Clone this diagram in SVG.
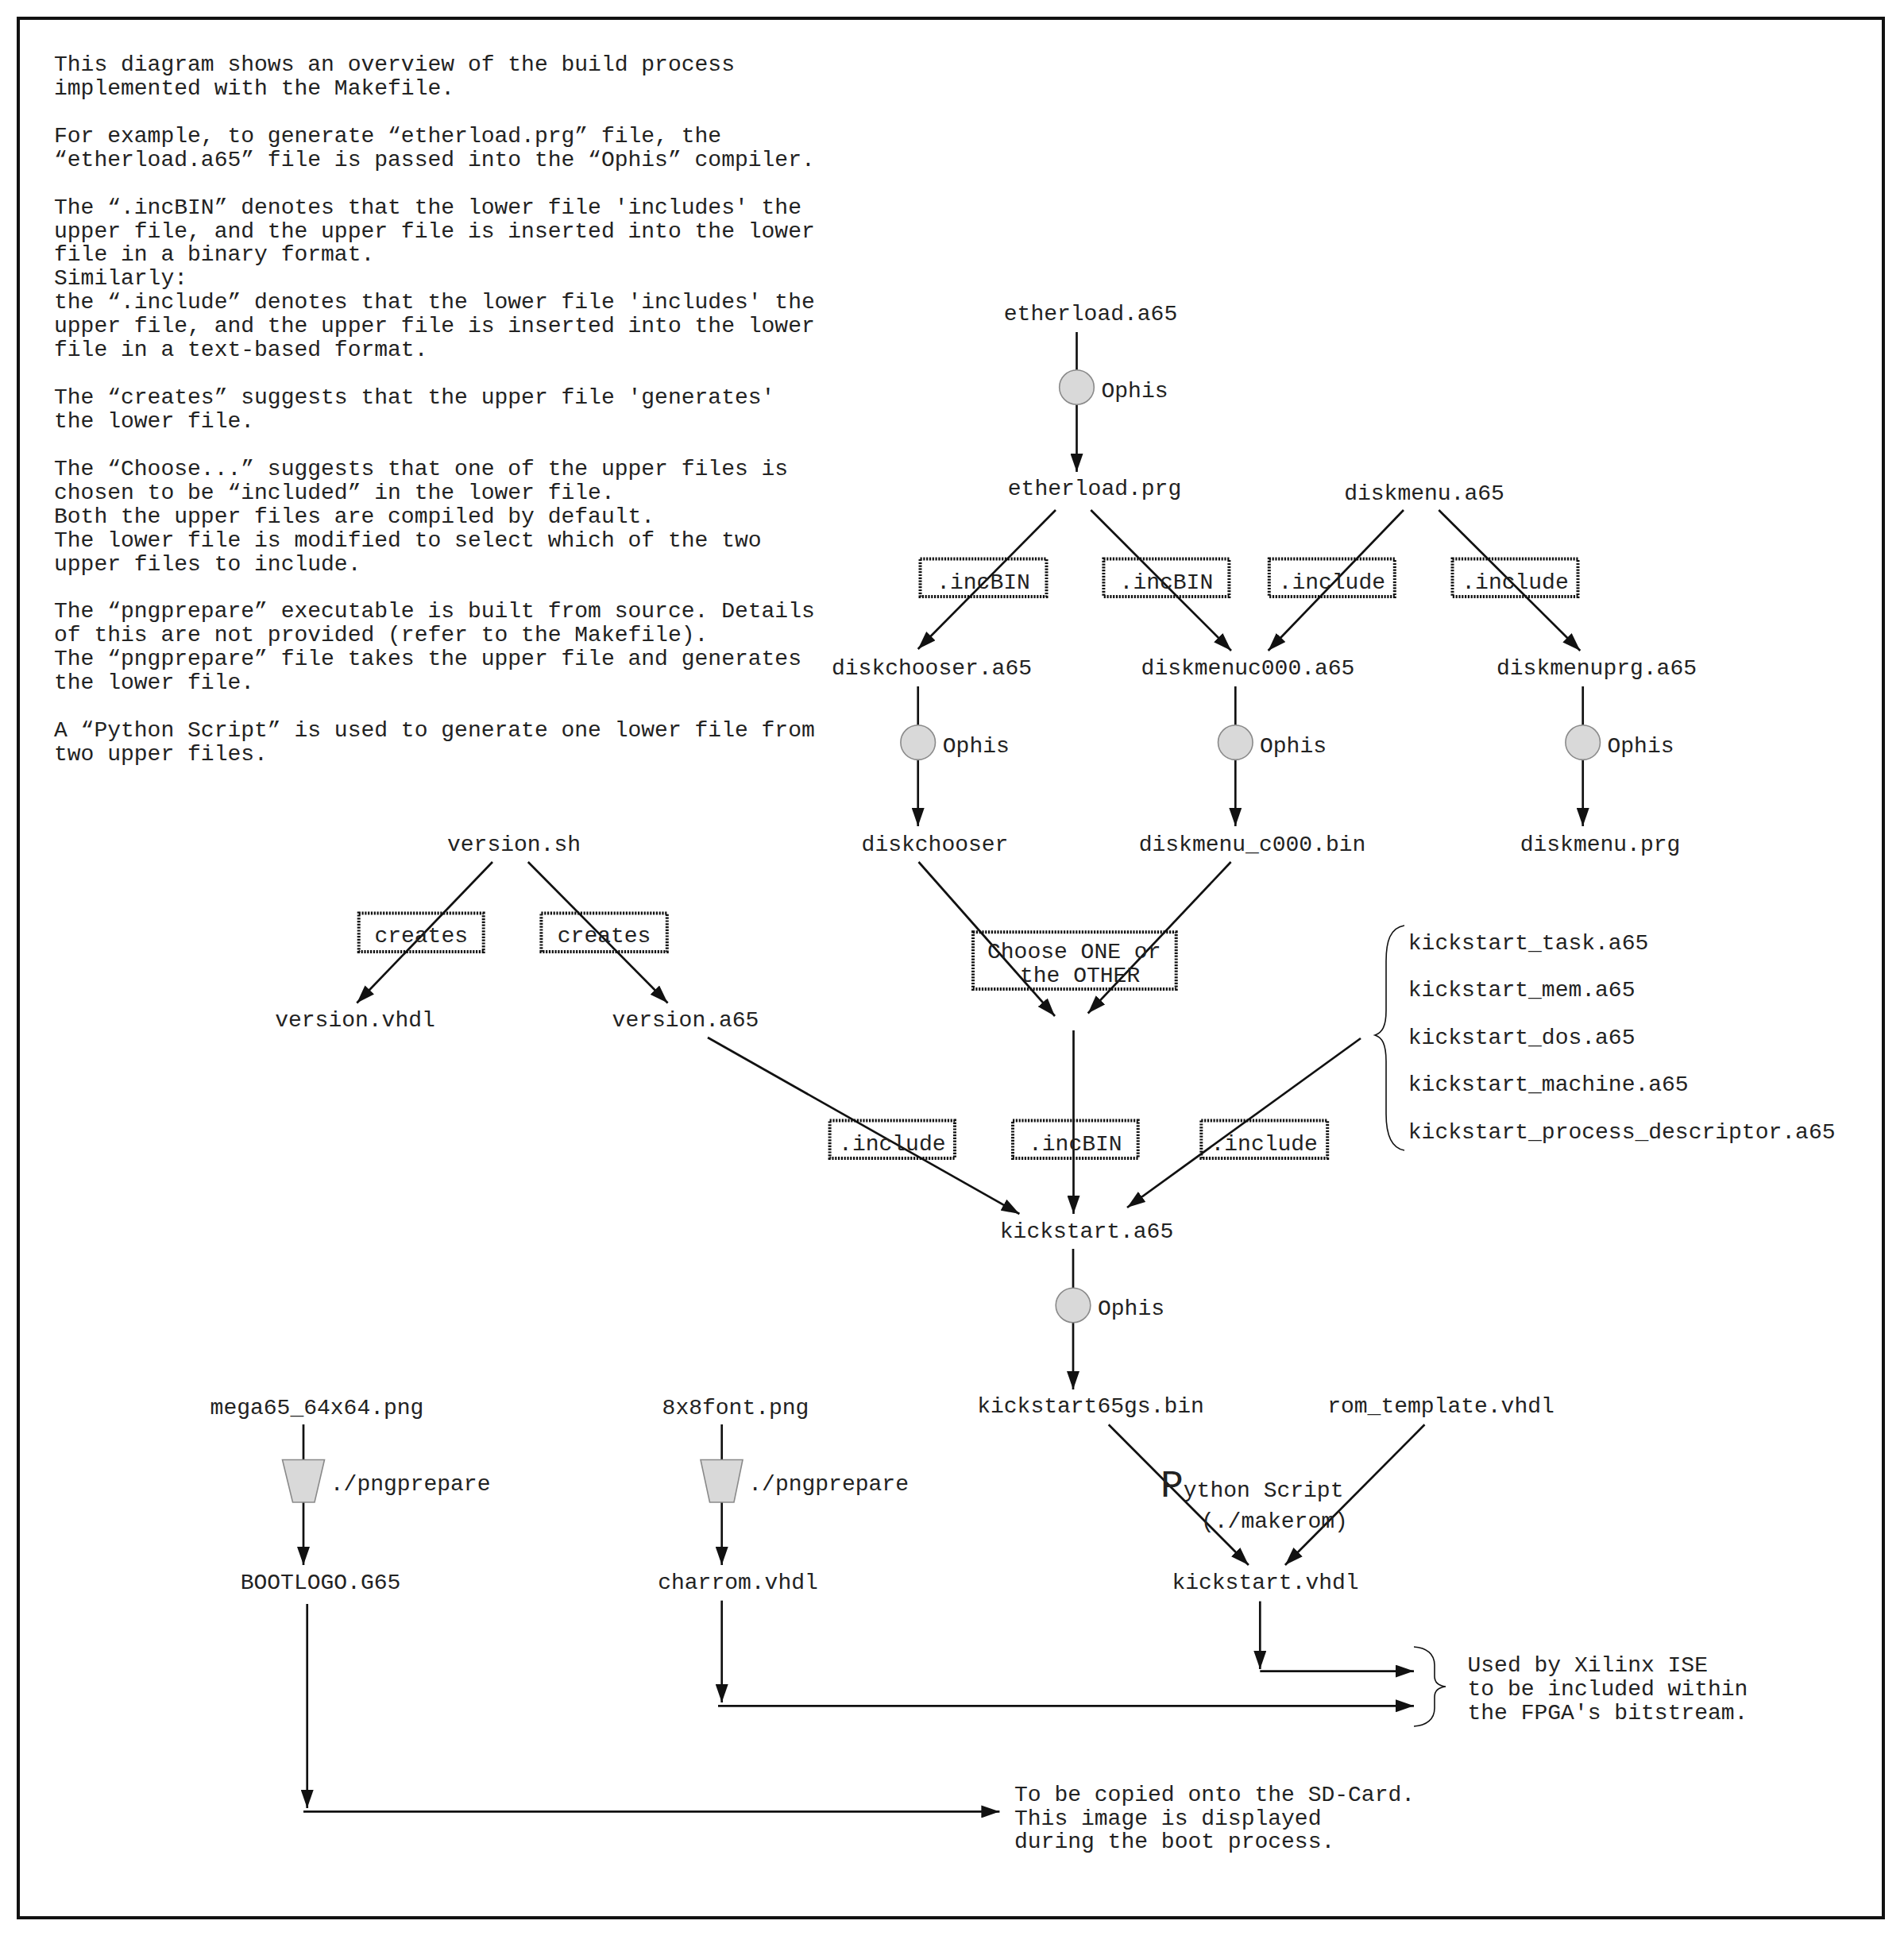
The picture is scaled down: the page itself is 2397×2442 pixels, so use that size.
<svg xmlns="http://www.w3.org/2000/svg" width="2397" height="2442" viewBox="0 0 2397 2442">
<style>
text{font-family:"Liberation Mono","DejaVu Sans Mono",monospace;font-size:28px;fill:#222}
.n{text-anchor:middle}
.c{stroke:#111;stroke-width:2.7;fill:none}
.a{marker-end:url(#ah)}
.lbl{fill:none;stroke:#111;stroke-width:4;stroke-dasharray:2.2 1.6}
.proc{fill:#d9d9d9;stroke:#8a8a8a;stroke-width:1.6}
.brace{fill:none;stroke:#111;stroke-width:1.6}
</style>
<defs>
<marker id="ah" viewBox="0 0 23 16" refX="23" refY="8" markerWidth="23" markerHeight="16" markerUnits="userSpaceOnUse" orient="auto">
<path d="M0,0 L23,8 L0,16 z" fill="#111"/>
</marker>
</defs>
<rect x="23" y="23" width="2348" height="2391" fill="#fff" stroke="#111" stroke-width="4"/>

<g id="notes">
<text x="68" y="89">
<tspan x="68">This diagram shows an overview of the build process</tspan>
<tspan x="68" dy="29.93">implemented with the Makefile.</tspan>
<tspan x="68" dy="59.86">For example, to generate “etherload.prg” file, the</tspan>
<tspan x="68" dy="29.93">“etherload.a65” file is passed into the “Ophis” compiler.</tspan>
<tspan x="68" dy="59.86">The “.incBIN” denotes that the lower file 'includes' the</tspan>
<tspan x="68" dy="29.93">upper file, and the upper file is inserted into the lower</tspan>
<tspan x="68" dy="29.93">file in a binary format.</tspan>
<tspan x="68" dy="29.93">Similarly:</tspan>
<tspan x="68" dy="29.93">the “.include” denotes that the lower file 'includes' the</tspan>
<tspan x="68" dy="29.93">upper file, and the upper file is inserted into the lower</tspan>
<tspan x="68" dy="29.93">file in a text-based format.</tspan>
<tspan x="68" dy="59.86">The “creates” suggests that the upper file 'generates'</tspan>
<tspan x="68" dy="29.93">the lower file.</tspan>
<tspan x="68" dy="59.86">The “Choose...” suggests that one of the upper files is</tspan>
<tspan x="68" dy="29.93">chosen to be “included” in the lower file.</tspan>
<tspan x="68" dy="29.93">Both the upper files are compiled by default.</tspan>
<tspan x="68" dy="29.93">The lower file is modified to select which of the two</tspan>
<tspan x="68" dy="29.93">upper files to include.</tspan>
<tspan x="68" dy="59.86">The “pngprepare” executable is built from source. Details</tspan>
<tspan x="68" dy="29.93">of this are not provided (refer to the Makefile).</tspan>
<tspan x="68" dy="29.93">The “pngprepare” file takes the upper file and generates</tspan>
<tspan x="68" dy="29.93">the lower file.</tspan>
<tspan x="68" dy="59.86">A “Python Script” is used to generate one lower file from</tspan>
<tspan x="68" dy="29.93">two upper files.</tspan>
</text>
</g>

<g id="connectors">
<line class="c a" x1="1355.5" y1="418" x2="1355.5" y2="594"/>
<line class="c a" x1="1329" y1="642" x2="1155.7" y2="817"/>
<line class="c a" x1="1373.3" y1="642" x2="1550" y2="819"/>
<line class="c a" x1="1767" y1="642" x2="1596.6" y2="819"/>
<line class="c a" x1="1811.3" y1="642" x2="1989.3" y2="819"/>
<line class="c a" x1="1155.7" y1="864" x2="1155.7" y2="1040"/>
<line class="c a" x1="1555.3" y1="864" x2="1555.3" y2="1040"/>
<line class="c a" x1="1992.7" y1="864" x2="1992.7" y2="1040"/>
<line class="c a" x1="620" y1="1085" x2="449.3" y2="1262.5"/>
<line class="c a" x1="664.8" y1="1085" x2="840.6" y2="1262.5"/>
<line class="c a" x1="1156.5" y1="1085" x2="1328" y2="1279"/>
<line class="c a" x1="1549.6" y1="1085" x2="1369.7" y2="1275.5"/>
<line class="c a" x1="1351.5" y1="1297" x2="1351.5" y2="1528"/>
<line class="c a" x1="891" y1="1306" x2="1283.4" y2="1528"/>
<line class="c a" x1="1713" y1="1307" x2="1419" y2="1520"/>
<line class="c a" x1="1351" y1="1572" x2="1351" y2="1749"/>
<line class="c a" x1="1395.7" y1="1793.3" x2="1571.9" y2="1970"/>
<line class="c a" x1="1793.5" y1="1793.3" x2="1617.9" y2="1970"/>
<line class="c a" x1="382" y1="1793" x2="382" y2="1970"/>
<line class="c a" x1="908.7" y1="1793" x2="908.7" y2="1970"/>
<line class="c a" x1="1586.3" y1="2015.6" x2="1586.3" y2="2101"/>
<line class="c a" x1="1586.3" y1="2103.6" x2="1780" y2="2103.6"/>
<line class="c a" x1="908.7" y1="2014.7" x2="908.7" y2="2143"/>
<line class="c a" x1="904" y1="2147.3" x2="1780" y2="2147.3"/>
<line class="c a" x1="386.7" y1="2019" x2="386.7" y2="2276"/>
<line class="c a" x1="382" y1="2280.4" x2="1258.4" y2="2280.4"/>
</g>

<g id="proc-ophis-1"><circle class="proc" cx="1355.5" cy="487.5" r="21.8"/><text x="1386.5" y="500">Ophis</text></g>
<g id="proc-ophis-2"><circle class="proc" cx="1155.7" cy="934.6" r="21.8"/><text x="1186.8" y="947">Ophis</text></g>
<g id="proc-ophis-3"><circle class="proc" cx="1555.3" cy="934.6" r="21.8"/><text x="1586" y="947">Ophis</text></g>
<g id="proc-ophis-4"><circle class="proc" cx="1992.7" cy="934.6" r="21.8"/><text x="2023.5" y="947">Ophis</text></g>
<g id="proc-ophis-5"><circle class="proc" cx="1351" cy="1643" r="21.8"/><text x="1382" y="1655">Ophis</text></g>
<g id="proc-png-1"><polygon class="proc" points="355.5,1837.5 408.5,1837.5 396,1891 368.5,1891"/><text x="415.8" y="1876">./pngprepare</text></g>
<g id="proc-png-2"><polygon class="proc" points="882,1837.5 935,1837.5 924,1891 893.5,1891"/><text x="942.3" y="1876">./pngprepare</text></g>
<g id="proc-python"><text x="1461" y="1884"><tspan font-size="48">P</tspan><tspan>ython Script</tspan></text><text x="1512" y="1922.5">(./makerom)</text></g>

<g id="lbl-incbin-1"><rect class="lbl" x="1158.5" y="703.5" width="159" height="47.5"/><text class="n" x="1238" y="740.7">.incBIN</text></g>
<g id="lbl-incbin-2"><rect class="lbl" x="1389.4" y="703.5" width="158" height="47.5"/><text class="n" x="1468.4" y="740.7">.incBIN</text></g>
<g id="lbl-include-1"><rect class="lbl" x="1597.8" y="703.5" width="158" height="47.5"/><text class="n" x="1676.8" y="740.7">.include</text></g>
<g id="lbl-include-2"><rect class="lbl" x="1828.5" y="703.5" width="158" height="47.5"/><text class="n" x="1907.5" y="740.7">.include</text></g>
<g id="lbl-creates-1"><rect class="lbl" x="451.7" y="1149.6" width="157" height="48.3"/><text class="n" x="530.2" y="1186.4">creates</text></g>
<g id="lbl-creates-2"><rect class="lbl" x="681.4" y="1149.6" width="158.4" height="48.3"/><text class="n" x="760.6" y="1186.4">creates</text></g>
<g id="lbl-choose"><rect class="lbl" x="1225" y="1173.3" width="255.7" height="71.7"/><text x="1243" y="1205.7">Choose ONE or</text><text x="1284" y="1236">the OTHER</text></g>
<g id="lbl-include-3"><rect class="lbl" x="1044.6" y="1410.6" width="157.4" height="47.4"/><text class="n" x="1123.3" y="1447.7">.include</text></g>
<g id="lbl-incbin-3"><rect class="lbl" x="1275" y="1410.6" width="157.7" height="47.4"/><text class="n" x="1353.8" y="1447.7">.incBIN</text></g>
<g id="lbl-include-4"><rect class="lbl" x="1512.3" y="1410.6" width="158.9" height="47.4"/><text class="n" x="1591.7" y="1447.7">.include</text></g>

<g id="etherload-a65"><text class="n" x="1373" y="403">etherload.a65</text></g>
<g id="etherload-prg"><text class="n" x="1378" y="623">etherload.prg</text></g>
<g id="diskmenu-a65"><text class="n" x="1793" y="628.5">diskmenu.a65</text></g>
<g id="diskchooser-a65"><text class="n" x="1173" y="849">diskchooser.a65</text></g>
<g id="diskmenuc000-a65"><text class="n" x="1571" y="849">diskmenuc000.a65</text></g>
<g id="diskmenuprg-a65"><text class="n" x="2010" y="849">diskmenuprg.a65</text></g>
<g id="diskchooser"><text class="n" x="1177" y="1071">diskchooser</text></g>
<g id="diskmenu-c000-bin"><text class="n" x="1576.5" y="1071">diskmenu_c000.bin</text></g>
<g id="diskmenu-prg"><text class="n" x="2014.5" y="1071">diskmenu.prg</text></g>
<g id="version-sh"><text class="n" x="647" y="1071">version.sh</text></g>
<g id="version-vhdl"><text class="n" x="447" y="1291.6">version.vhdl</text></g>
<g id="version-a65"><text class="n" x="863" y="1291.6">version.a65</text></g>
<g id="kickstart-a65"><text class="n" x="1368" y="1558">kickstart.a65</text></g>
<g id="kickstart-includes">
<path class="brace" d="M1768,1165 C1750,1168 1745,1185 1745,1210 L1745,1272 C1745,1292 1740,1300 1731,1303 C1740,1306 1745,1314 1745,1336 L1745,1402 C1745,1426 1750,1445 1768,1448"/>
<text x="1772.8" y="1195">kickstart_task.a65</text>
<text x="1772.8" y="1254.3">kickstart_mem.a65</text>
<text x="1772.8" y="1313.6">kickstart_dos.a65</text>
<text x="1772.8" y="1373">kickstart_machine.a65</text>
<text x="1772.8" y="1432.7">kickstart_process_descriptor.a65</text>
</g>
<g id="kickstart65gs-bin"><text class="n" x="1373" y="1778">kickstart65gs.bin</text></g>
<g id="rom-template-vhdl"><text class="n" x="1814" y="1778">rom_template.vhdl</text></g>
<g id="mega65-png"><text class="n" x="399" y="1779.5">mega65_64x64.png</text></g>
<g id="font-png"><text class="n" x="926" y="1779.5">8x8font.png</text></g>
<g id="bootlogo-g65"><text class="n" x="403.5" y="2000">BOOTLOGO.G65</text></g>
<g id="charrom-vhdl"><text class="n" x="929" y="2000">charrom.vhdl</text></g>
<g id="kickstart-vhdl"><text class="n" x="1593" y="2000">kickstart.vhdl</text></g>
<g id="xilinx-note">
<path class="brace" d="M1780,2073 C1796,2074 1806,2082 1806,2096 L1806,2110 C1806,2118 1812,2122 1820,2123 C1812,2124 1806,2128 1806,2136 L1806,2150 C1806,2164 1796,2172 1780,2173"/>
<text x="1847.5" y="2104">Used by Xilinx ISE</text>
<text x="1847.5" y="2134">to be included within</text>
<text x="1847.5" y="2164">the FPGA's bitstream.</text>
</g>
<g id="sdcard-note">
<text x="1277" y="2267">To be copied onto the SD-Card.</text>
<text x="1277" y="2297">This image is displayed</text>
<text x="1277" y="2326">during the boot process.</text>
</g>
</svg>
